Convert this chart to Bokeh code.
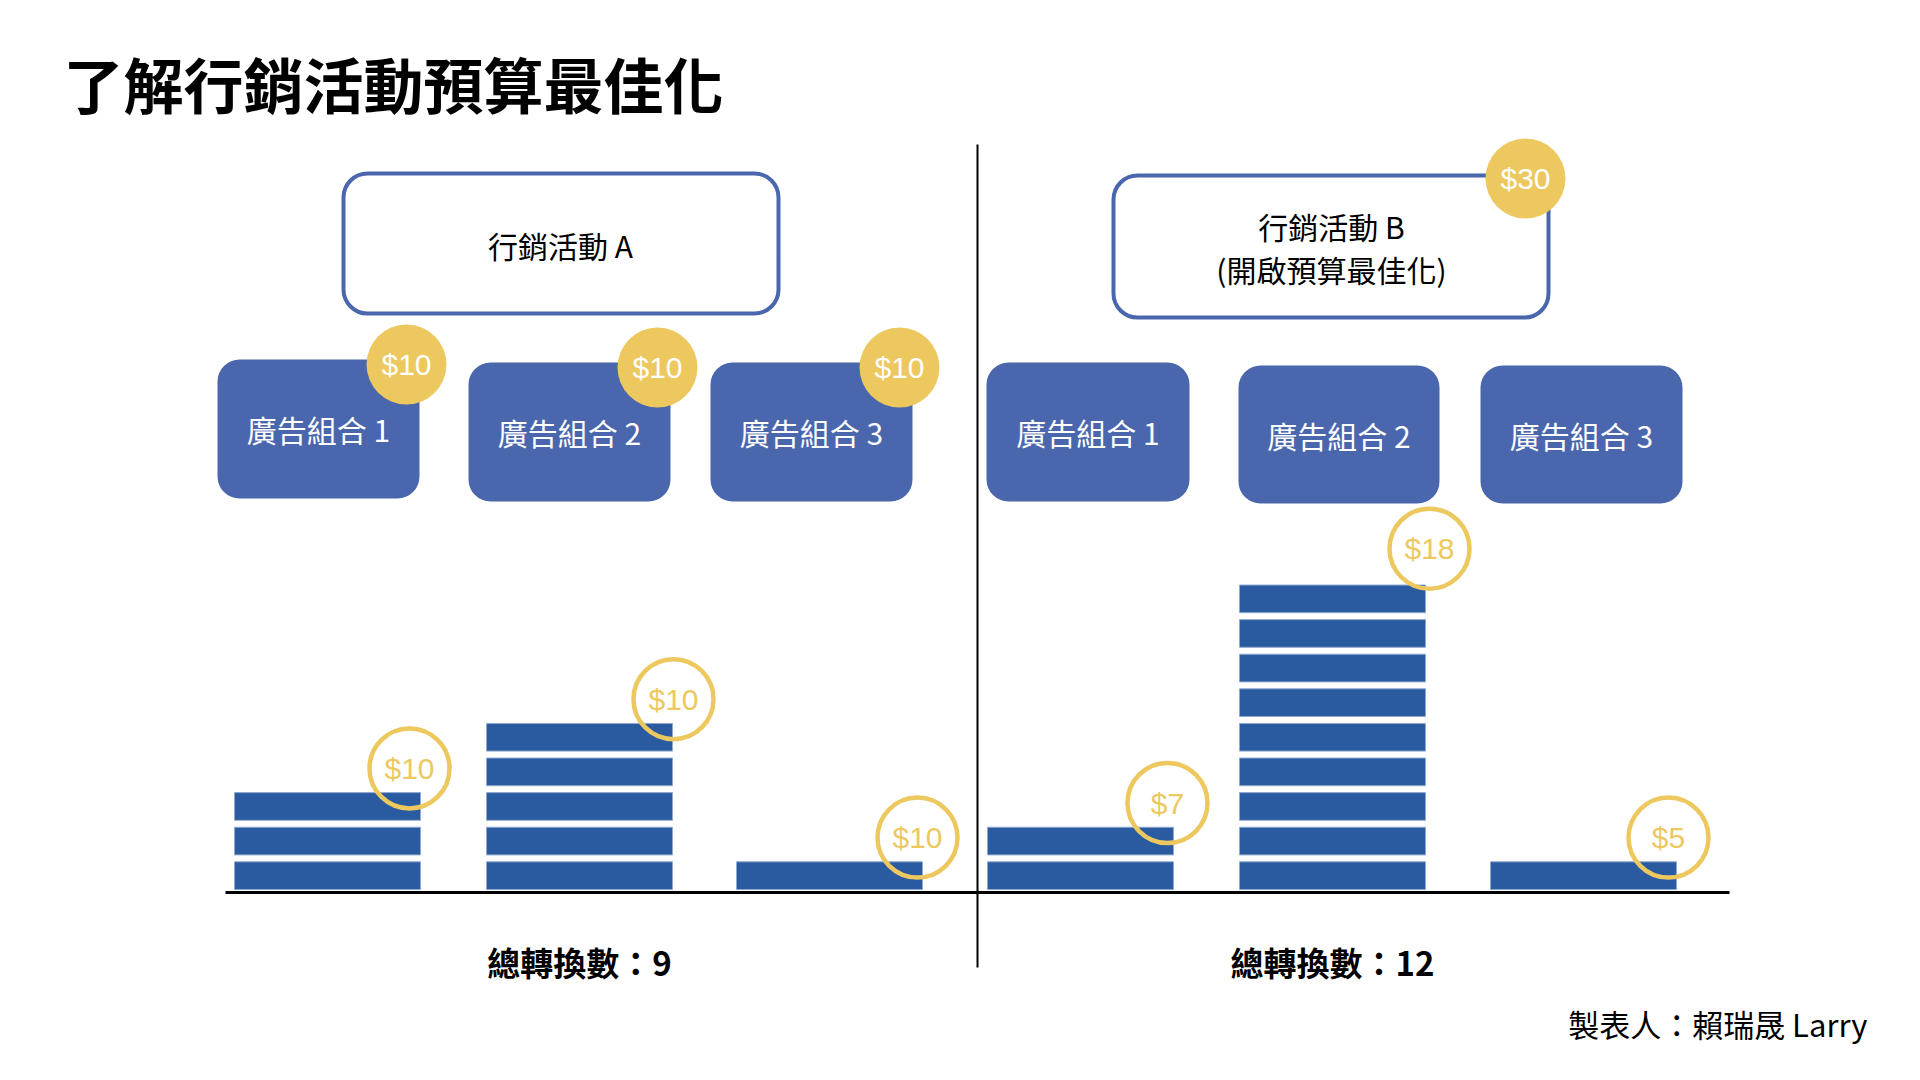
from bokeh.plotting import figure
from bokeh.models import Range1d
from bokeh.core.properties import value
from bokeh.embed import file_html
from bokeh.resources import INLINE

# ---------------- data ----------------
title = "了解行銷活動預算最佳化"
campaign_a = "行銷活動 A"
campaign_b_lines = ["行銷活動 B", "(開啟預算最佳化)"]
ad_groups = ["廣告組合 1", "廣告組合 2", "廣告組合 3"]
a_budgets = [10, 10, 10]          # budget per ad group (campaign A)
a_conversions = [3, 5, 1]
b_budget_total = 30               # campaign budget (campaign B)
b_spend = [7, 18, 5]              # spend per ad group (campaign B)
b_conversions = [2, 9, 1]
total_label = "總轉換數："
footer = "製表人：賴瑞晟 Larry"

# ---------------- style / layout ----------------
W, H = 1920, 1080
GROUP_BLUE = "#4a67ae"
BAR_BLUE = "#2a5ba0"
GOLD = "#ecc85f"
CJK = value("Noto Sans CJK TC")
LAT = value("Liberation Sans")

BASE_PX = 889.0      # pixel row of the bottom of the lowest block
PITCH = 34.6         # pixels per conversion
BLOCK_FRAC = 0.8     # block height as a fraction of one conversion

p = figure(width=W, height=H, x_range=Range1d(0, W), y_range=Range1d(H, 0),
           output_backend="svg", toolbar_location=None, min_border=0)
p.axis.visible = False
p.grid.visible = False
p.outline_line_color = None
p.background_fill_color = "white"
p.border_fill_color = "white"
p.extra_y_ranges = {"conv": Range1d(start=(BASE_PX - H) / PITCH, end=BASE_PX / PITCH)}

# title
p.text(x=[63], y=[82], text=[title], text_font=CJK, text_font_size="60px",
       text_font_style="bold", text_color="black", text_baseline="middle", text_align="left")

# divider and baseline
p.segment(x0=[977], y0=[144], x1=[977], y1=[967], line_color="black", line_width=2)
p.segment(x0=[225], y0=[892], x1=[1729], y1=[892], line_color="black", line_width=3)

# campaign boxes
camp_l = [343, 1113]
camp_r = [778, 1548]
camp_t = [173, 175]
camp_b = [313, 317]
p.quad(left=camp_l, right=camp_r, top=camp_t, bottom=camp_b, fill_color="white",
       line_color=GROUP_BLUE, line_width=4, border_radius=24)
p.text(x=[560], y=[244], text=[campaign_a], text_font=CJK, text_font_size="30px",
       text_color="black", text_align="center", text_baseline="middle")
p.text(x=[1331, 1331], y=[225, 268], text=campaign_b_lines, text_font=CJK,
       text_font_size="30px", text_color="black", text_align="center", text_baseline="middle")

# ad group boxes
grp_l = [217, 468, 710, 986, 1238, 1480]
grp_r = [419, 670, 912, 1189, 1439, 1682]
grp_t = [359, 362, 362, 362, 365, 365]
grp_b = [498, 501, 501, 501, 503, 503]
p.quad(left=grp_l, right=grp_r, top=grp_t, bottom=grp_b, fill_color=GROUP_BLUE,
       line_color=None, border_radius=22)
p.text(x=[(l + r) / 2 for l, r in zip(grp_l, grp_r)],
       y=[(t + b) / 2 for t, b in zip(grp_t, grp_b)],
       text=ad_groups * 2, text_font=CJK, text_font_size="30px", text_color="white",
       text_align="center", text_baseline="middle")

# budget coins (filled)
coin_x = [r - 13 for r in grp_r[:3]] + [camp_r[1] - 23]
coin_y = [t + 5 for t in grp_t[:3]] + [camp_t[1] + 3]
coin_txt = ["$%d" % v for v in a_budgets] + ["$%d" % b_budget_total]
p.circle(x=coin_x, y=coin_y, radius=40, fill_color=GOLD, line_color=None)
p.text(x=coin_x, y=coin_y, text=coin_txt, text_font=LAT, text_font_size="30px",
       text_color="white", text_align="center", text_baseline="middle")

# conversion blocks
bar_cx = [327, 579, 829, 1080, 1332, 1583]
bar_w = 186
conversions = a_conversions + b_conversions
spends = a_budgets + b_spend
bx, bb, bt = [], [], []
for cx, n in zip(bar_cx, conversions):
    for i in range(n):
        bx.append(cx)
        bb.append(i)
        bt.append(i + BLOCK_FRAC)
p.vbar(x=bx, bottom=bb, top=bt, width=bar_w, fill_color=BAR_BLUE,
       line_color="#8fa9d0", line_width=1, y_range_name="conv")

# spend coins (outlined), sitting on the top-right corner of each stack
coin_dx = [-11, 1, -5, -6, 4, -8]
coin_dy = [0.5, 0.5, 0.5, 0.5, 0.85, 0.5]
sc_x = [cx + bar_w / 2 + dx for cx, dx in zip(bar_cx, coin_dx)]
sc_y = [n + dy for n, dy in zip(conversions, coin_dy)]
p.circle(x=sc_x, y=sc_y, radius=40, fill_alpha=0, line_color=GOLD, line_width=4.5,
         y_range_name="conv")
p.text(x=sc_x, y=sc_y, text=["$%d" % v for v in spends], text_font=LAT,
       text_font_size="30px", text_color=GOLD, text_align="center",
       text_baseline="middle", y_range_name="conv")

# totals
totals = [sum(a_conversions), sum(b_conversions)]
p.text(x=[579, 1332], y=[961, 961], text=[total_label + str(t) for t in totals],
       text_font=CJK, text_font_size="33px", text_font_style="bold", text_color="black",
       text_align="center", text_baseline="middle")

# footer
p.text(x=[1867], y=[1023], text=[footer], text_font=CJK, text_font_size="31px",
       text_color="black", text_align="right", text_baseline="middle")

open("out.html", "w").write(file_html(p, INLINE))
